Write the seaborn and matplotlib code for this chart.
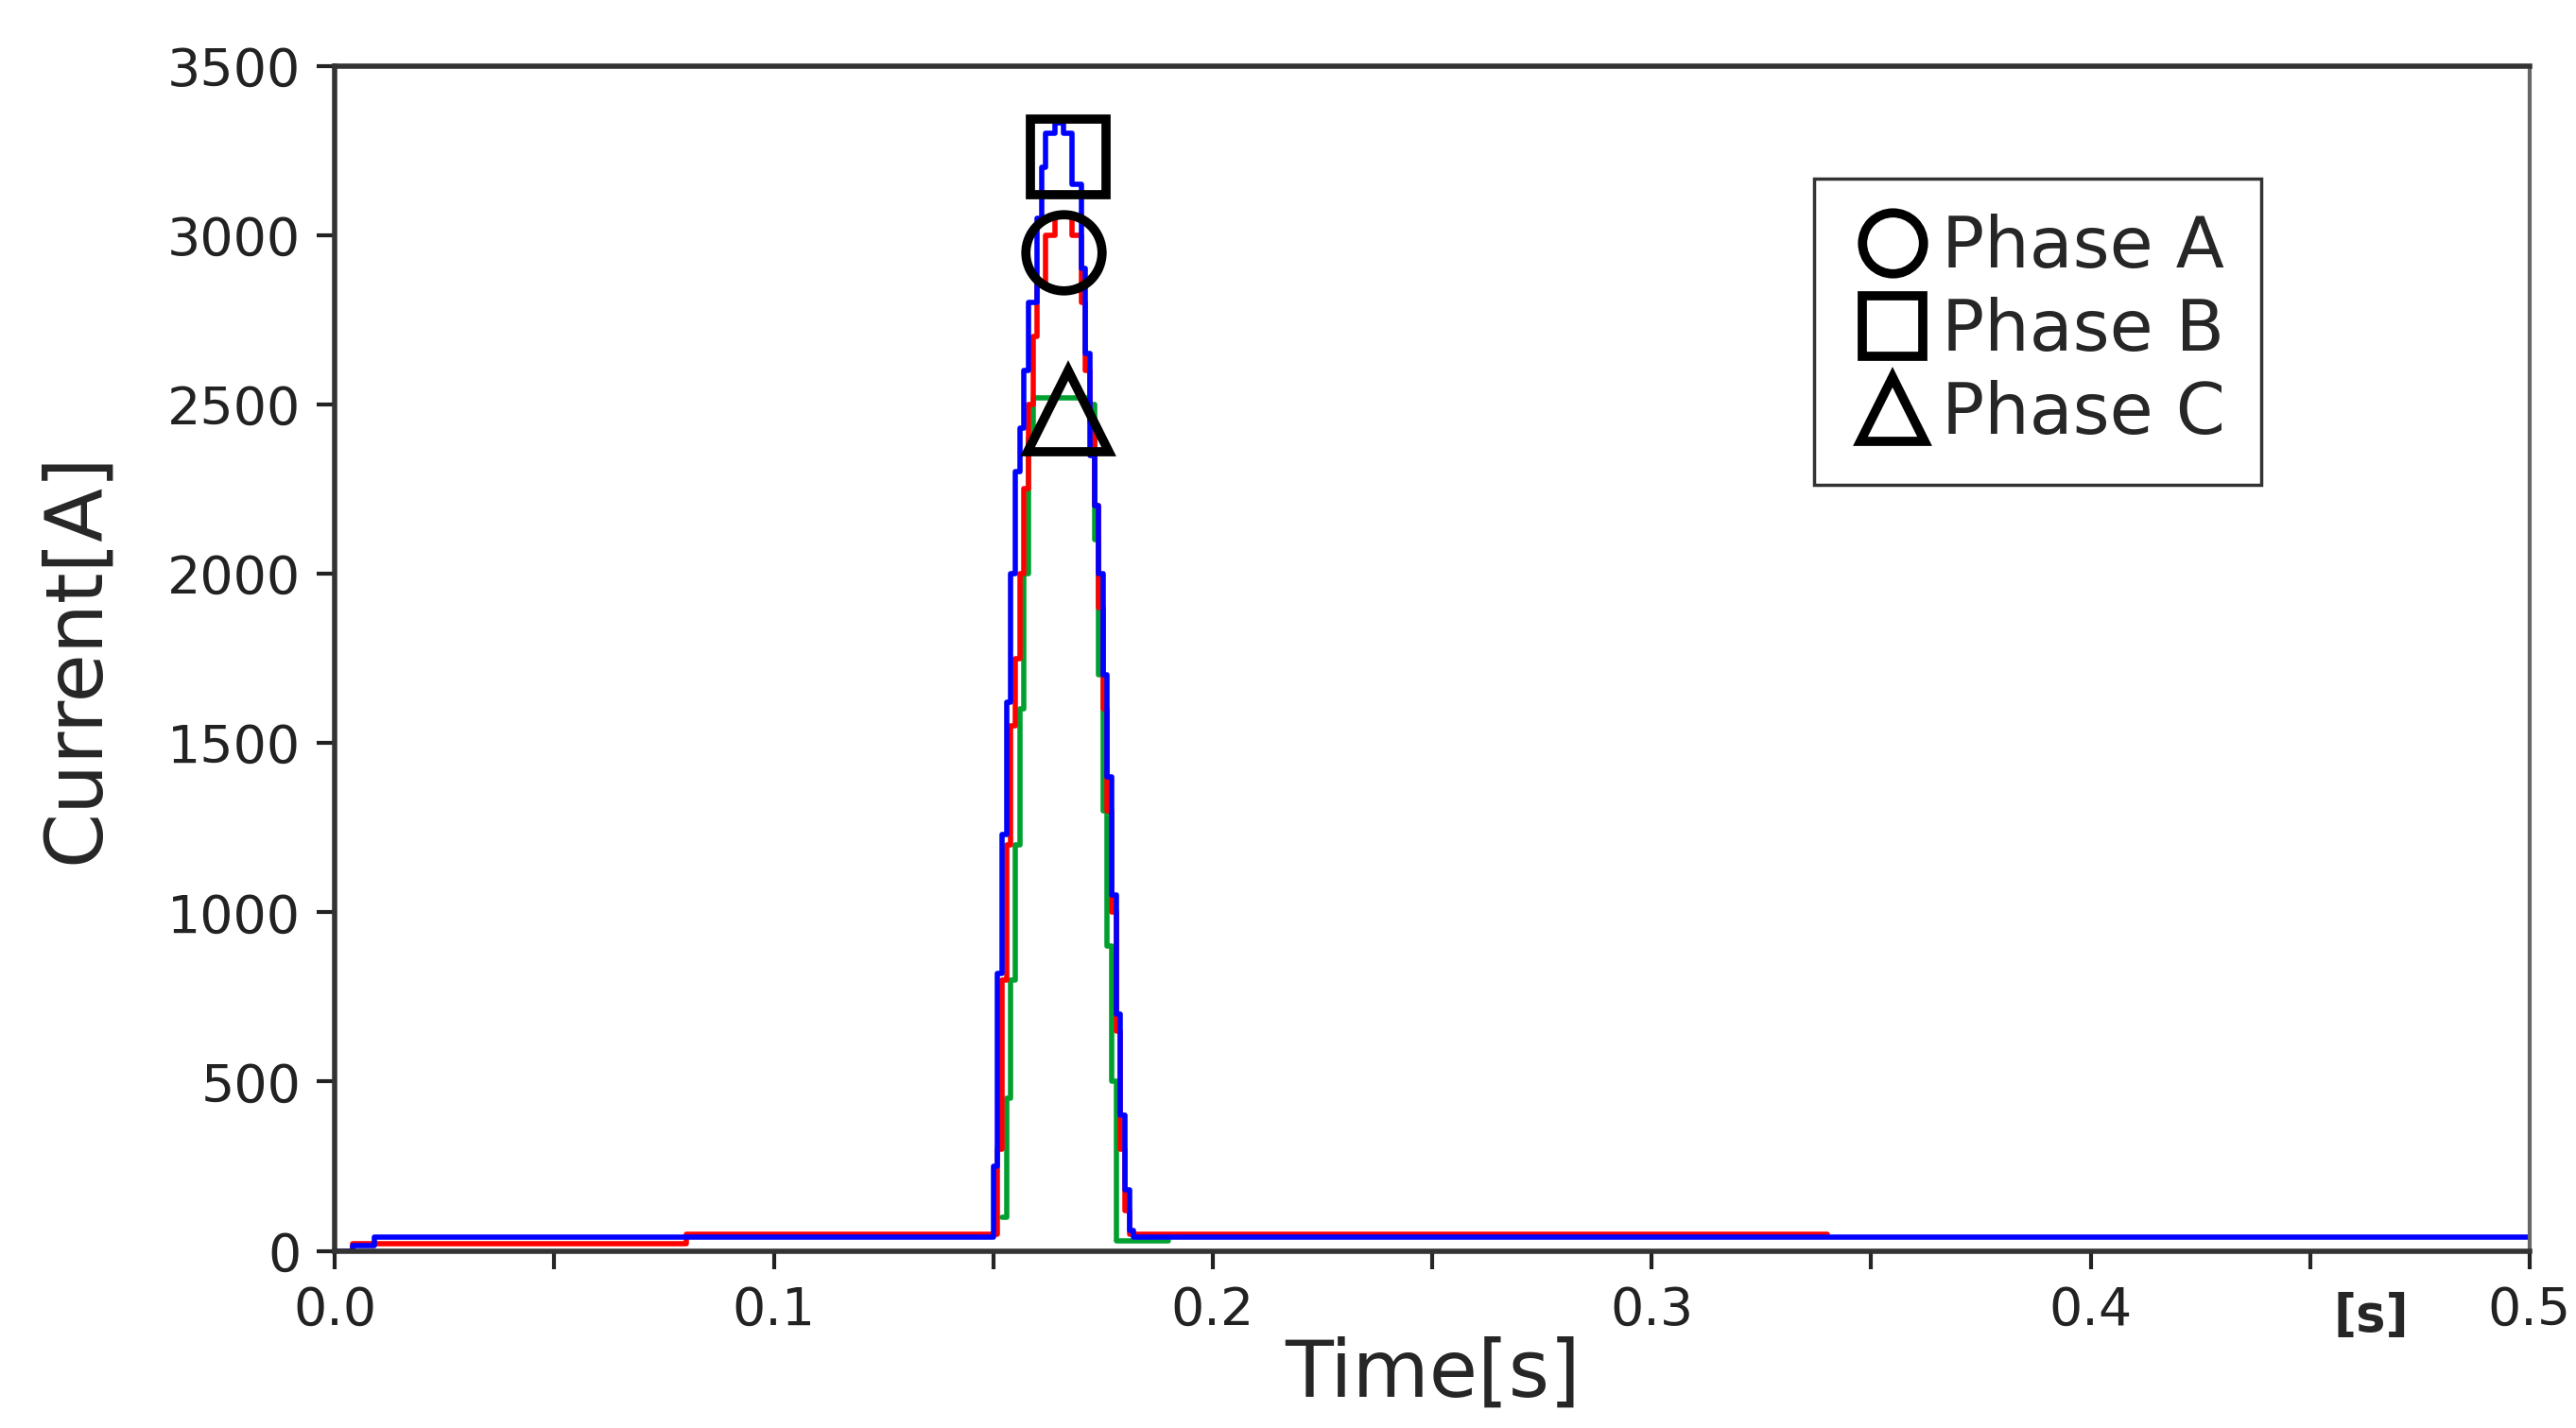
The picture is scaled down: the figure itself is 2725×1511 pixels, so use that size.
import numpy as np
import pandas as pd
import matplotlib
matplotlib.use("Agg")
import matplotlib.pyplot as plt
import seaborn as sns

# stepped waveforms (time [s], current [A])
t_a = [0.0, 0.004, 0.08, 0.151, 0.152, 0.153, 0.154, 0.155, 0.156, 0.157, 0.158, 0.159, 0.160,
       0.162, 0.164, 0.166, 0.168, 0.170, 0.171, 0.172, 0.173, 0.174, 0.175, 0.176, 0.177,
       0.178, 0.179, 0.180, 0.181, 0.34]
i_a = [0, 20, 50, 300, 800, 1200, 1550, 1750, 2000, 2250, 2500, 2700, 2850,
       3000, 3060, 3060, 3000, 2800, 2600, 2450, 2200, 1900, 1600, 1300, 1000,
       650, 300, 120, 50, 50]

t_b = [0.0, 0.004, 0.009, 0.150, 0.151, 0.152, 0.153, 0.154, 0.155, 0.156, 0.157, 0.158, 0.160,
       0.161, 0.162, 0.164, 0.166, 0.168, 0.170, 0.171, 0.172, 0.173, 0.174, 0.175, 0.176,
       0.177, 0.178, 0.179, 0.180, 0.181, 0.182, 0.183, 0.5]
i_b = [0, 15, 40, 250, 820, 1230, 1620, 2000, 2300, 2430, 2600, 2800, 3050,
       3200, 3300, 3330, 3300, 3150, 2900, 2650, 2350, 2200, 2000, 1700, 1400,
       1050, 700, 400, 180, 60, 40, 40, 40]

t_c = [0.152, 0.153, 0.154, 0.155, 0.156, 0.157, 0.158, 0.159, 0.172, 0.173, 0.174,
       0.175, 0.176, 0.177, 0.178, 0.19]
i_c = [100, 450, 800, 1200, 1600, 2000, 2400, 2520, 2500, 2100, 1700, 1300, 900,
       500, 30, 30]

phase_names = ["Phase A", "Phase B", "Phase C"]
phase_colors = ["red", "blue", "#00a030"]
marker_t = [0.166, 0.167, 0.167]
marker_i = [2950, 3230, 2480]
marker_shapes = ["o", "s", "^"]

sns.set_style("white")
plt.rcParams["font.family"] = ["DejaVu Sans"]

fig = plt.figure(figsize=(27.25, 15.11), dpi=100)
ax = fig.add_axes([0.130, 0.124, 0.852, 0.830])

for t, cur, col in [(t_c, i_c, phase_colors[2]), (t_a, i_a, phase_colors[0]), (t_b, i_b, phase_colors[1])]:
    df = pd.DataFrame({"t": t, "i": cur})
    sns.lineplot(data=df, x="t", y="i", ax=ax, color=col, lw=4,
                 drawstyle="steps-post", sort=False, estimator=None)

handles = []
for name, mt, mi, mk in zip(phase_names, marker_t, marker_i, marker_shapes):
    h, = ax.plot([mt], [mi], marker=mk, ms=62 if mk == "^" else 58, mfc="none", mec="black",
                 mew=7, ls="none", label=name)
    handles.append(h)

leg = ax.legend(handles=handles, loc="upper left", bbox_to_anchor=(0.658, 0.935),
                fontsize=54, frameon=True, fancybox=False, edgecolor="black",
                handletextpad=0.1, handlelength=1.2, labelspacing=0.2, borderpad=0.5,
                markerscale=0.8)
leg.get_frame().set_linewidth(2.5)

ax.set_xlim(0, 0.5)
ax.set_ylim(0, 3500)
ax.set_xticks(np.arange(0, 0.51, 0.1))
ax.set_xticklabels(["0.0", "0.1", "0.2", "0.3", "0.4", "0.5"])
ax.set_xticks(np.arange(0.05, 0.5, 0.1), minor=True)
ax.set_yticks(np.arange(0, 3501, 500))
ax.tick_params(axis="both", which="major", labelsize=40, length=14, width=3,
               direction="out", colors="#222222", pad=12)
ax.tick_params(axis="x", which="minor", length=14, width=3, direction="out", bottom=True)
ax.tick_params(left=True, bottom=True)

for side in ["left", "bottom", "top"]:
    ax.spines[side].set_linewidth(4)
    ax.spines[side].set_color("#333333")
ax.spines["right"].set_linewidth(3)
ax.spines["right"].set_color("#666666")

ax.set_xlabel("Time[s]", fontsize=60, labelpad=0)
ax.set_ylabel("Current[A]", fontsize=60, labelpad=40)
ax.text(0.464, -0.055, "[s]", transform=ax.get_xaxis_transform(), fontsize=38,
        fontweight="bold", ha="center", va="center")

fig.savefig("out.png", dpi=100, facecolor="white")
